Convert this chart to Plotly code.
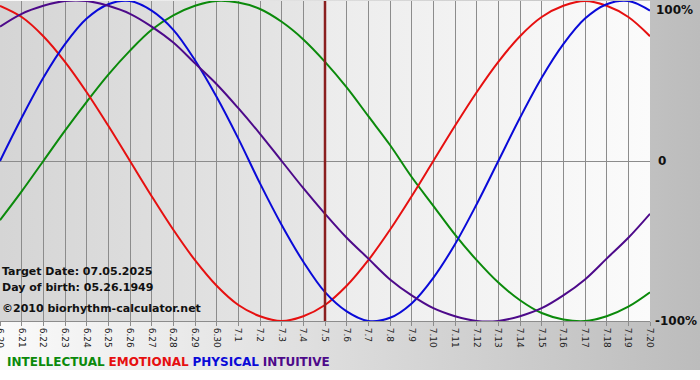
import plotly.graph_objects as go

# ---- data ----
days = ["6.20", "6.21", "6.22", "6.23", "6.24", "6.25", "6.26", "6.27", "6.28", "6.29", "6.30",
        "7.1", "7.2", "7.3", "7.4", "7.5", "7.6", "7.7", "7.8", "7.9", "7.10", "7.11", "7.12",
        "7.13", "7.14", "7.15", "7.16", "7.17", "7.18", "7.19", "7.20"]

physical = [0.00, 0.27, 0.52, 0.73, 0.89, 0.98, 1.00, 0.94, 0.82, 0.63, 0.40, 0.14, -0.14,
            -0.40, -0.63, -0.82, -0.94, -1.00, -0.98, -0.89, -0.73, -0.52, -0.27, 0.00,
            0.27, 0.52, 0.73, 0.89, 0.98, 1.00, 0.94]
emotional = [0.97, 0.90, 0.78, 0.62, 0.43, 0.22, 0.00, -0.22, -0.43, -0.62, -0.78, -0.90,
             -0.97, -1.00, -0.97, -0.90, -0.78, -0.62, -0.43, -0.22, 0.00, 0.22, 0.43, 0.62,
             0.78, 0.90, 0.97, 1.00, 0.97, 0.90, 0.78]
intellectual = [-0.37, -0.19, 0.00, 0.19, 0.37, 0.54, 0.69, 0.82, 0.91, 0.97, 1.00, 0.99,
                0.95, 0.87, 0.76, 0.62, 0.46, 0.28, 0.10, -0.10, -0.28, -0.46, -0.62, -0.76,
                -0.87, -0.95, -0.99, -1.00, -0.97, -0.91, -0.82]
intuitive = [0.84, 0.92, 0.97, 1.00, 1.00, 0.97, 0.92, 0.84, 0.74, 0.61, 0.48, 0.33, 0.17,
             0.00, -0.17, -0.33, -0.48, -0.61, -0.74, -0.84, -0.92, -0.97, -1.00, -1.00,
             -0.97, -0.92, -0.84, -0.74, -0.61, -0.48, -0.33]

target_day = "7.5"
series_names = ["INTELLECTUAL", "EMOTIONAL", "PHYSICAL", "INTUITIVE"]
series_colors = ["#0b8a0b", "#e61010", "#0a0ad8", "#4d0a8a"]

W, H = 700, 380
PL, PR, PT, PB = 0, 650, 1, 321  # plot area in pixels
xi = list(range(len(days)))
tidx = days.index(target_day)
px_per_day = (PR - PL) / (len(days) - 1)
tx = PL + tidx * px_per_day

fig = go.Figure()


def grad_rect(x0, x1, y0, y1, c0, c1):
    fig.add_trace(go.Scatter(
        x=[x0, x1, x1, x0, x0], y=[y0, y0, y1, y1, y0], mode="lines",
        line=dict(width=0), fill="toself",
        fillgradient=dict(type="horizontal", colorscale=[[0, c0], [1, c1]]),
        xaxis="x", yaxis="y", hoverinfo="skip", showlegend=False))


# background (pixel coordinate subplot)
grad_rect(0, W, 0, 370, "#fafafa", "#bcbcbc")
grad_rect(PL, tx, PT, PB, "#d5d5d5", "#e7e7e7")
grad_rect(tx, PR, PT, PB, "#ececec", "#fbfbfb")

# data series
for name, vals, col in zip(series_names, [intellectual, emotional, physical, intuitive], series_colors):
    fig.add_trace(go.Scatter(x=xi, y=vals, mode="lines", name=name,
                             line=dict(color=col, width=2, shape="spline", smoothing=1.0),
                             xaxis="x2", yaxis="y2", hoverinfo="skip", showlegend=False))

# target date line
fig.add_trace(go.Scatter(x=[tidx, tidx], y=[-1, 1], mode="lines",
                         line=dict(color="#8a1f1f", width=2.5),
                         xaxis="x2", yaxis="y2", hoverinfo="skip", showlegend=False))

dom_x = [PL / W, PR / W]
dom_y = [(H - PB) / H, (H - PT) / H]

fig.update_layout(
    width=W, height=H,
    margin=dict(l=0, r=0, t=0, b=0, pad=0, autoexpand=False),
    paper_bgcolor="#ffffff",
    plot_bgcolor="rgba(0,0,0,0)",
    xaxis=dict(domain=[0, 1], range=[0, W], visible=False, fixedrange=True, automargin=False),
    yaxis=dict(domain=[0, 1], range=[H, 0], visible=False, fixedrange=True, automargin=False),
    xaxis2=dict(domain=dom_x, anchor="y2", range=[0, len(days) - 1], automargin=False,
                tickmode="array", tickvals=xi, ticktext=days, tickangle=90,
                showgrid=True, gridcolor="#8c8c8c", gridwidth=1,
                ticks="outside", ticklen=4, tickcolor="#8c8c8c",
                showline=True, linecolor="#8c8c8c", linewidth=1,
                zeroline=False, fixedrange=True,
                tickfont=dict(family="DejaVu Sans", size=9, color="#222222")),
    yaxis2=dict(domain=dom_y, anchor="x2", range=[-1, 1], automargin=False,
                showgrid=False, zeroline=True, zerolinecolor="#8c8c8c", zerolinewidth=1,
                showticklabels=False, showline=False, fixedrange=True),
    font=dict(family="DejaVu Sans"),
)

# y labels
ylab_font = dict(family="DejaVu Sans", size=12, color="#111111")
fig.add_annotation(text="<b>100%</b>", xref="x2 domain", yref="y2", x=1, y=1,
                   xanchor="left", yanchor="top", xshift=4, showarrow=False, font=ylab_font)
fig.add_annotation(text="<b>0</b>", xref="x2 domain", yref="y2", x=1, y=0,
                   xanchor="left", yanchor="middle", xshift=6, showarrow=False, font=ylab_font)
fig.add_annotation(text="<b>-100%</b>", xref="x2 domain", yref="y2", x=1, y=-1,
                   xanchor="left", yanchor="middle", xshift=3, showarrow=False, font=ylab_font)

# first (partly clipped) day label, as in the reference
fig.add_annotation(text=days[0], xref="x2", yref="y2 domain", x=0, y=0,
                   xanchor="center", yanchor="top", yshift=-5, textangle=90, showarrow=False,
                   font=dict(family="DejaVu Sans", size=9, color="#222222"))

# info text
info_font = dict(family="DejaVu Sans", size=11, color="#111111")
fig.add_annotation(text="<b>Target Date: 07.05.2025</b>", xref="x", yref="y", x=0, y=271,
                   xanchor="left", yanchor="middle", showarrow=False, font=info_font)
fig.add_annotation(text="<b>Day of birth: 05.26.1949</b>", xref="x", yref="y", x=0, y=287,
                   xanchor="left", yanchor="middle", showarrow=False, font=info_font)
fig.add_annotation(text="<b>©2010 biorhythm-calculator.net</b>", xref="x", yref="y", x=0, y=308,
                   xanchor="left", yanchor="middle", showarrow=False, font=info_font)

# legend text
legend_html = "&nbsp;".join(
    f"<span style='color:{c}'><b>{n}</b></span>" for n, c in zip(series_names, series_colors))
fig.add_annotation(text=legend_html, xref="x", yref="y", x=5, y=362,
                   xanchor="left", yanchor="middle", showarrow=False,
                   font=dict(family="DejaVu Sans", size=12))

fig.write_html("out.html", config={"displayModeBar": False, "staticPlot": True},
               post_script="document.body.style.margin='0';")
